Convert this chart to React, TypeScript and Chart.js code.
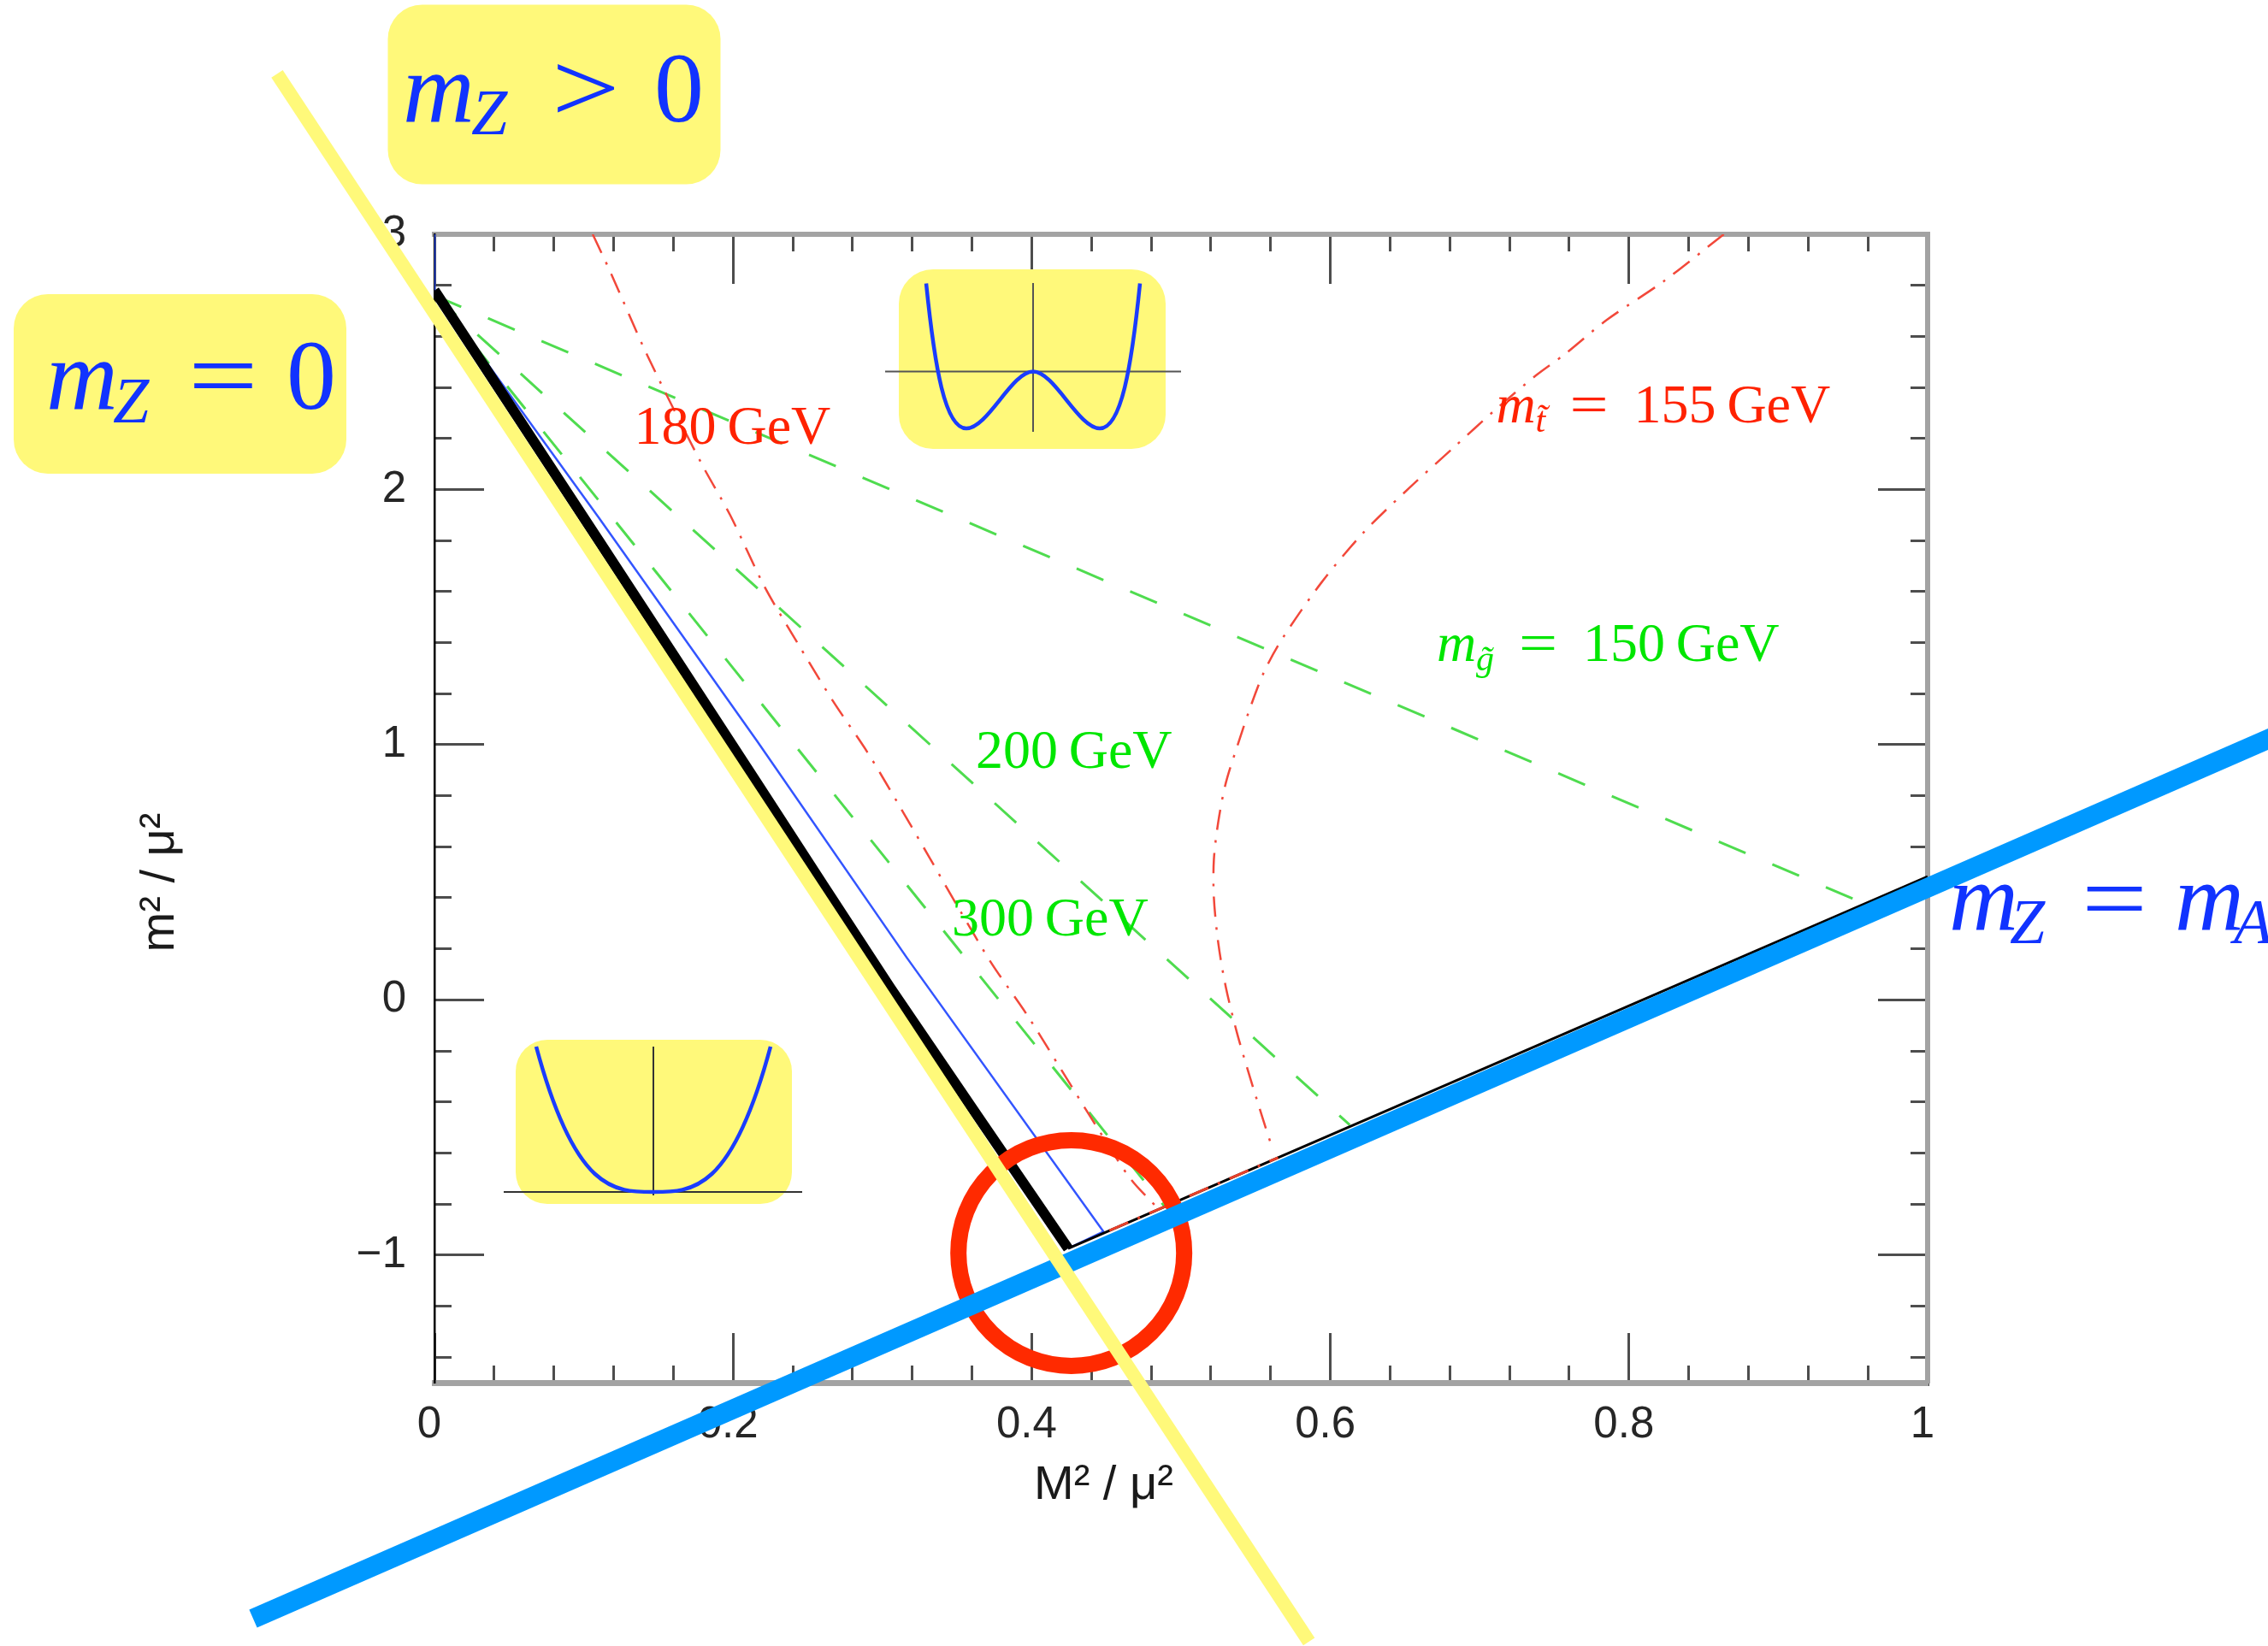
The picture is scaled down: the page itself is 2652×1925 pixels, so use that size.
import React, { useEffect, useRef } from "react";
import { Chart, registerables } from "chart.js";

Chart.register(...registerables);

const SANS = '"Liberation Sans", Arial, sans-serif';
const SERIF = '"Liberation Serif", "Times New Roman", serif';

// ---------- axis ranges and ticks ----------
const X_MIN = 0;
const X_MAX = 1;
const Y_MIN = -1.5;
const Y_MAX = 3;
const xMajorTicks = [0, 0.2, 0.4, 0.6, 0.8, 1];
const xMajorLabels = ["0", "0.2", "0.4", "0.6", "0.8", "1"];
const xMinorTicks = [0, 0.04, 0.08, 0.12, 0.16, 0.2, 0.24, 0.28, 0.32, 0.36, 0.4, 0.44, 0.48, 0.52, 0.56, 0.6, 0.64, 0.68, 0.72, 0.76, 0.8, 0.84, 0.88, 0.92, 0.96, 1];
const yMajorTicks = [-1, 0, 1, 2, 3];
const yMajorLabels = ["\u22121", "0", "1", "2", "3"];
const yMinorTicks = [-1.4, -1.2, -1, -0.8, -0.6, -0.4, -0.2, 0, 0.2, 0.4, 0.6, 0.8, 1, 1.2, 1.4, 1.6, 1.8, 2, 2.2, 2.4, 2.6, 2.8];

// ---------- series (x = M^2/mu^2, y = m^2/mu^2) ----------
const blackEdge: [number, number][] = [[0, 2.78], [0.11, 1.8], [0.216, 0.85], [0.305, 0.05], [0.4244, -0.974]];
const blackBase: [number, number][] = [[0.4244, -0.974], [1, 0.483]];
const blueEdge: [number, number][] = [[0, 3], [0, 2.78], [0.11, 1.89], [0.216, 1.015], [0.3165, 0.164], [0.448, -0.908], [0.4244, -0.974]];
const gluino150: [number, number][] = [[0, 2.76], [0.953, 0.389]];
const gluino200: [number, number][] = [[0, 2.76], [0.613, -0.49]];
const gluino300: [number, number][] = [[0, 2.76], [0.489, -0.81]];
const stop180: [number, number][] = [
  [0.106, 3.0], [0.118, 2.85], [0.143, 2.52], [0.179, 2.1], [0.198, 1.9], [0.221, 1.62],
  [0.243, 1.4], [0.267, 1.17], [0.29, 0.97], [0.31, 0.774], [0.331, 0.563], [0.352, 0.35], [0.373, 0.144],
  [0.397, -0.06], [0.42, -0.276], [0.442, -0.483], [0.466, -0.7], [0.485, -0.82],
];
const stop155: [number, number][] = [
  [0.8635, 3.0], [0.823, 2.815], [0.785, 2.664], [0.757, 2.53], [0.7377, 2.447], [0.71, 2.31], [0.6827, 2.165],
  [0.653, 2.007], [0.622, 1.83], [0.594, 1.635], [0.568, 1.417], [0.556, 1.29], [0.547, 1.156], [0.538, 1.0],
  [0.53, 0.85], [0.525, 0.7], [0.522, 0.55], [0.522, 0.4], [0.525, 0.22], [0.53, 0.05], [0.5375, -0.13],
  [0.546, -0.3], [0.555, -0.47], [0.5605, -0.57],
];
const stopBase: [number, number][] = [[0.452, -0.904], [0.565, -0.618]];
const mzZeroLine: [number, number][] = [[-0.1054, 3.629], [0.5857, -2.515]];
const mzEqMaLine: [number, number][] = [[-0.1214, -2.425], [1.24, 1.052]];
const circleCenter: [number, number][] = [[0.4265, -0.992]];

const pts = (a: [number, number][]) => a.map(([x, y]) => ({ x, y }));

function roundRect(ctx: CanvasRenderingContext2D, x: number, y: number, w: number, h: number, r: number) {
  ctx.beginPath();
  ctx.moveTo(x + r, y);
  ctx.arcTo(x + w, y, x + w, y + h, r);
  ctx.arcTo(x + w, y + h, x, y + h, r);
  ctx.arcTo(x, y + h, x, y, r);
  ctx.arcTo(x, y, x + w, y, r);
  ctx.closePath();
}

function txt(ctx: CanvasRenderingContext2D, s: string, x: number, y: number, size: number, italic: boolean, color: string, sx = 1) {
  ctx.save();
  ctx.font = `${italic ? "italic " : ""}${size}px ${SERIF}`;
  ctx.fillStyle = color;
  ctx.textAlign = "left";
  ctx.textBaseline = "alphabetic";
  ctx.translate(x, y);
  ctx.scale(sx, 1);
  ctx.fillText(s, 0, 0);
  ctx.restore();
}

const YELLOW = "#fff97a";
const TXT_BLUE = "#1133ff";
const RED_TXT = "#ff2200";
const GREEN_TXT = "#00e600";

const annotations = {
  id: "annotations",
  beforeDatasetsDraw(chart: any) {
    const ctx: CanvasRenderingContext2D = chart.ctx;
    ctx.save();
    // axis titles
    ctx.fillStyle = "#1a1a1a";
    ctx.font = `56px ${SANS}`;
    ctx.textBaseline = "alphabetic";
    ctx.textAlign = "left";
    ctx.fillText("M\u00b2 / \u03bc\u00b2", 1209, 1753);
    ctx.save();
    ctx.translate(203, 1032);
    ctx.rotate(-Math.PI / 2);
    ctx.textAlign = "center";
    ctx.fillText("m\u00b2 / \u03bc\u00b2", 0, 0);
    ctx.restore();

    // inset: double well
    ctx.fillStyle = YELLOW;
    roundRect(ctx, 1051, 315, 312, 210, 40);
    ctx.fill();
    ctx.strokeStyle = "#555";
    ctx.lineWidth = 2;
    ctx.beginPath();
    ctx.moveTo(1035, 434.6); ctx.lineTo(1381, 434.6);
    ctx.moveTo(1208, 331); ctx.lineTo(1208, 505);
    ctx.stroke();
    ctx.strokeStyle = "#1a3cff";
    ctx.lineWidth = 4.5;
    ctx.beginPath();
    ctx.moveTo(1083, 331.5);
    ctx.bezierCurveTo(1093, 430, 1105, 501, 1130, 501);
    ctx.bezierCurveTo(1155, 501, 1183, 434.6, 1208, 434.6);
    ctx.bezierCurveTo(1233, 434.6, 1261, 501, 1286, 501);
    ctx.bezierCurveTo(1311, 501, 1323, 430, 1333, 331.5);
    ctx.stroke();

    // inset: single well
    ctx.fillStyle = YELLOW;
    roundRect(ctx, 603, 1216, 323, 192, 37);
    ctx.fill();
    ctx.strokeStyle = "#333";
    ctx.lineWidth = 2;
    ctx.beginPath();
    ctx.moveTo(589, 1394); ctx.lineTo(938, 1394);
    ctx.moveTo(764, 1224); ctx.lineTo(764, 1398);
    ctx.stroke();
    ctx.strokeStyle = "#1a3cff";
    ctx.lineWidth = 4.5;
    ctx.beginPath();
    ctx.moveTo(627, 1224);
    ctx.bezierCurveTo(672.7, 1394, 718.3, 1394, 764, 1394);
    ctx.bezierCurveTo(809.7, 1394, 855.3, 1394, 901, 1224);
    ctx.stroke();
    ctx.restore();
  },
  afterDatasetsDraw(chart: any) {
    const ctx: CanvasRenderingContext2D = chart.ctx;
    const xs = chart.scales.x;
    const ys = chart.scales.y;
    const px = (v: number) => xs.getPixelForValue(v);
    const py = (v: number) => ys.getPixelForValue(v);
    ctx.save();

    // in-plot labels
    txt(ctx, "180\u2009GeV", px(0.1338), py(2.178), 64, false, RED_TXT);
    {
      const x0 = px(0.7111), y0 = py(2.263);
      txt(ctx, "m", x0, y0, 64, true, RED_TXT);
      txt(ctx, "t\u0303", x0 + 46, y0 + 11, 42, true, RED_TXT);
      txt(ctx, "=", x0 + 86, y0, 64, false, RED_TXT, 1.25);
      txt(ctx, "155\u2009GeV", x0 + 161, y0, 64, false, RED_TXT);
    }
    {
      const x0 = px(0.6712), y0 = py(1.328);
      txt(ctx, "m", x0, y0, 64, true, GREEN_TXT);
      txt(ctx, "g\u0303", x0 + 46, y0 + 11, 42, true, GREEN_TXT);
      txt(ctx, "=", x0 + 96, y0, 64, false, GREEN_TXT, 1.25);
      txt(ctx, "150\u2009GeV", x0 + 171, y0, 64, false, GREEN_TXT);
    }
    txt(ctx, "200\u2009GeV", px(0.3625), py(0.909), 64, false, GREEN_TXT);
    txt(ctx, "300\u2009GeV", px(0.3465), py(0.2513), 64, false, GREEN_TXT);

    // m_Z > 0 box
    ctx.fillStyle = YELLOW;
    roundRect(ctx, 453.5, 5.5, 389, 210, 40);
    ctx.fill();
    txt(ctx, "m", 471, 142, 116, true, TXT_BLUE);
    txt(ctx, "Z", 551, 157, 76, true, TXT_BLUE);
    txt(ctx, ">", 645, 142, 116, false, TXT_BLUE, 1.22);
    txt(ctx, "0", 765, 142, 116, false, TXT_BLUE);

    // m_Z = 0 box
    ctx.fillStyle = YELLOW;
    roundRect(ctx, 16, 344, 389, 210, 40);
    ctx.fill();
    txt(ctx, "m", 54, 478, 116, true, TXT_BLUE);
    txt(ctx, "Z", 132, 494, 76, true, TXT_BLUE);
    txt(ctx, "=", 220, 478, 116, false, TXT_BLUE, 1.25);
    txt(ctx, "0", 335, 478, 116, false, TXT_BLUE);

    // m_Z = m_A
    txt(ctx, "m", 2279, 1088, 112, true, TXT_BLUE);
    txt(ctx, "Z", 2350, 1103, 74, true, TXT_BLUE);
    txt(ctx, "=", 2434, 1088, 112, false, TXT_BLUE, 1.22);
    txt(ctx, "m", 2543, 1088, 112, true, TXT_BLUE);
    txt(ctx, "A", 2612, 1103, 74, true, TXT_BLUE);
    ctx.restore();
  },
};

const tickGrid = (len: number) => ({
  display: true,
  drawOnChartArea: false,
  drawTicks: true,
  tickLength: -len,
  tickColor: "#4d4d4d",
  tickWidth: 3,
});

const setTicks = (arr: number[]) => (a: any) => {
  a.ticks = arr.map((v) => ({ value: v }));
};

export default function App() {
  const ref = useRef<HTMLCanvasElement>(null);

  useEffect(() => {
    if (!ref.current) return;
    Chart.defaults.font.family = SANS;
    const line = (data: [number, number][], color: string, width: number, order: number, extra: any = {}) => ({
      data: pts(data),
      showLine: true,
      borderColor: color,
      backgroundColor: color,
      borderWidth: width,
      pointRadius: 0,
      pointHoverRadius: 0,
      tension: 0,
      fill: false,
      order,
      ...extra,
    });
    const dashDot = [24, 12, 3, 12];
    const chart = new Chart(ref.current, {
      type: "scatter",
      data: {
        datasets: [
          line(mzZeroLine, YELLOW, 16, 0, { clip: false }),
          line(mzEqMaLine, "#0099ff", 23, 1, { clip: false }),
          {
            data: pts(circleCenter),
            showLine: false,
            pointRadius: 132,
            pointHoverRadius: 132,
            pointBorderWidth: 19,
            pointBorderColor: "#ff2a00",
            pointBackgroundColor: "rgba(0,0,0,0)",
            clip: false,
            order: 2,
          },
          line(blackEdge, "#000000", 12, 3, { tension: 0.2 }),
          line(stopBase, "#e8402a", 3, 4, { borderDash: dashDot }),
          line(blackBase, "#000000", 3, 5),
          line(blueEdge, "#3355ff", 2.5, 6),
          line(stop180, "#f2483a", 2.5, 7, { borderDash: dashDot, tension: 0.3 }),
          line(stop155, "#f2483a", 2.5, 7, { borderDash: dashDot, tension: 0.3 }),
          line(gluino150, "#4fdc4f", 3, 8, { borderDash: [34, 34] }),
          line(gluino200, "#4fdc4f", 3, 8, { borderDash: [34, 34] }),
          line(gluino300, "#4fdc4f", 3, 8, { borderDash: [34, 34] }),
        ],
      },
      options: {
        animation: false,
        responsive: false,
        devicePixelRatio: 1,
        events: [],
        layout: { padding: { left: 0, top: 274, right: 398, bottom: 0 } },
        plugins: { legend: { display: false }, tooltip: { enabled: false }, title: { display: false } },
        scales: {
          x: {
            type: "linear", position: "bottom", min: X_MIN, max: X_MAX, weight: 1,
            afterBuildTicks: setTicks(xMajorTicks),
            afterFit: (a: any) => { a.height = 308; },
            grid: tickGrid(58),
            border: { display: true, color: "#a3a3a3", width: 7 },
            ticks: {
              autoSkip: false, maxRotation: 0, minRotation: 0, padding: 77, labelOffset: -6,
              color: "#262626", font: { family: SANS, size: 51 },
              callback: (_v: any, i: number) => xMajorLabels[i],
            },
          },
          xMinor: {
            type: "linear", position: "bottom", min: X_MIN, max: X_MAX, weight: 0,
            afterBuildTicks: setTicks(xMinorTicks),
            afterFit: (a: any) => { a.height = 0; },
            grid: tickGrid(20),
            border: { display: false },
            ticks: { display: false },
          },
          xTop: {
            type: "linear", position: "top", min: X_MIN, max: X_MAX, weight: 1,
            afterBuildTicks: setTicks(xMajorTicks),
            afterFit: (a: any) => { a.height = 0; },
            grid: tickGrid(58),
            border: { display: true, color: "#a3a3a3", width: 6 },
            ticks: { display: false },
          },
          xTopMinor: {
            type: "linear", position: "top", min: X_MIN, max: X_MAX, weight: 0,
            afterBuildTicks: setTicks(xMinorTicks),
            afterFit: (a: any) => { a.height = 0; },
            grid: tickGrid(20),
            border: { display: false },
            ticks: { display: false },
          },
          y: {
            type: "linear", position: "left", min: Y_MIN, max: Y_MAX, weight: 1,
            afterBuildTicks: setTicks(yMajorTicks),
            afterFit: (a: any) => { a.width = 508; },
            grid: tickGrid(58),
            border: { display: true, color: "#000000", width: 2.5 },
            ticks: {
              autoSkip: false, padding: 91, color: "#262626", font: { family: SANS, size: 51 },
              callback: (_v: any, i: number) => yMajorLabels[i],
            },
          },
          yMinor: {
            type: "linear", position: "left", min: Y_MIN, max: Y_MAX, weight: 0,
            afterBuildTicks: setTicks(yMinorTicks),
            afterFit: (a: any) => { a.width = 0; },
            grid: tickGrid(20),
            border: { display: false },
            ticks: { display: false },
          },
          yRight: {
            type: "linear", position: "right", min: Y_MIN, max: Y_MAX, weight: 1,
            afterBuildTicks: setTicks(yMajorTicks),
            afterFit: (a: any) => { a.width = 0; },
            grid: tickGrid(58),
            border: { display: true, color: "#a3a3a3", width: 6 },
            ticks: { display: false },
          },
          yRightMinor: {
            type: "linear", position: "right", min: Y_MIN, max: Y_MAX, weight: 0,
            afterBuildTicks: setTicks(yMinorTicks),
            afterFit: (a: any) => { a.width = 0; },
            grid: tickGrid(20),
            border: { display: false },
            ticks: { display: false },
          },
        },
      } as any,
      plugins: [annotations],
    });
    return () => chart.destroy();
  }, []);

  return (
    <div style={{ position: "fixed", left: 0, top: 0, width: 2652, height: 1925, background: "#ffffff" }}>
      <canvas ref={ref} width={2652} height={1925} style={{ width: 2652, height: 1925, display: "block" }} />
    </div>
  );
}
